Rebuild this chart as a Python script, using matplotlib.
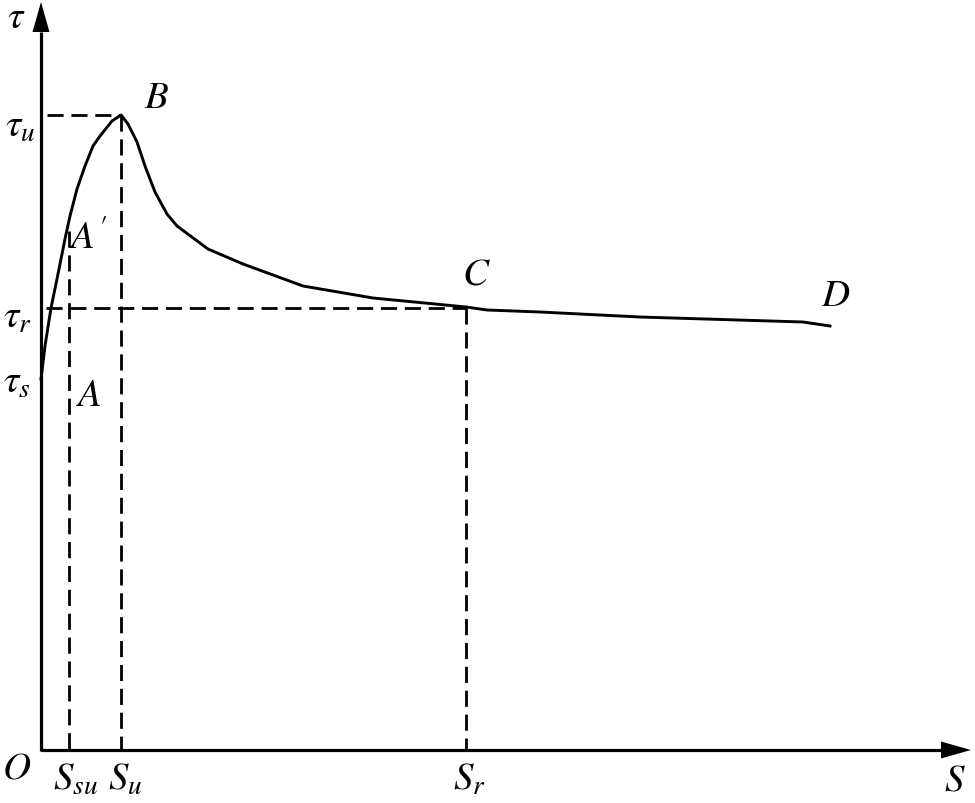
import matplotlib
matplotlib.use("Agg")
import matplotlib.pyplot as plt

plt.rcParams['mathtext.fontset'] = 'stix'
plt.rcParams['font.family'] = ['Liberation Serif', 'DejaVu Serif']

# Bond-slip curve (S, tau) in arbitrary units
S_curve = [0.0, 0.4, 1.0, 1.6, 2.4, 2.9, 3.6, 4.4, 5.2, 5.9, 7.1, 8.0,
           8.7, 9.6, 10.4, 11.4, 12.6, 13.6, 16.7, 20.2, 26.2, 33.2, 42.5, 44.6,
           49.9, 59.9, 76.2, 78.9]
tau_curve = [37.1, 40.4, 44.2, 47.1, 51.1, 53.4, 56.1, 58.4, 60.4, 61.4, 62.9, 63.5,
             62.6, 60.8, 58.4, 55.8, 53.6, 52.4, 50.1, 48.6, 46.4, 45.2, 44.3, 44.0,
             43.8, 43.3, 42.8, 42.4]

S_su, tau_A1 = 2.8, 51.9
S_u, tau_u = 8.0, 63.5
S_r, tau_r = 42.5, 44.2
tau_s = 37.1
S_D, tau_D = 78.9, 42.4

x_max, y_max = 93.0, 74.8

fig = plt.figure(figsize=(9.75, 8.04), dpi=100)
ax = fig.add_axes([0, 0, 1, 1])
ax.set_xlim(-4.1, 93.4)
ax.set_ylim(-5.3, 75.1)
ax.axis('off')

# axes
ax.plot([0, x_max - 2.9], [0, 0], color='k', lw=2.3, solid_capstyle='butt')
ax.plot([0, 0], [-0.1, y_max - 3.0], color='k', lw=2.3, solid_capstyle='butt')
ax.fill([x_max - 3.0, x_max, x_max - 3.0], [-0.85, 0, 0.85], color='k', lw=0)
ax.fill([-0.85, 0, 0.85], [y_max - 3.0, y_max, y_max - 3.0], color='k', lw=0)

# dashed guides
dash = dict(color='k', lw=2.0, dashes=(5.8, 2.8))
ax.plot([0.6, S_u], [tau_u, tau_u], **dash)
ax.plot([S_u, S_u], [tau_u, 0], **dash)
ax.plot([0.5, S_r], [tau_r, tau_r], **dash)
ax.plot([S_r, S_r], [tau_r, 0], **dash)
ax.plot([S_su, S_su], [tau_A1, 0], **dash)

# curve
ax.plot(S_curve, tau_curve, color='k', lw=2.1, solid_joinstyle='round')

fs = 28
def lab(s, x, y, dx, dy, **kw):
    ax.annotate(s, xy=(x, y), xytext=(dx, dy), textcoords='offset pixels',
                ha='center', va='center', fontsize=fs, **kw)

lab(r'$\tau$', 0, y_max, -25, -15)
lab(r'$\tau_u$', 0, tau_u, -21, -11)
lab(r'$\tau_r$', 0, tau_r, -23, -9)
lab(r'$\tau_s$', 0, tau_s, -24, -3)
lab(r'$B$', S_u, tau_u, 36, 17)
lab(r"$A'$", S_su, tau_A1, 19, -7)
lab(r'$A$', S_su, tau_s, 20, -17)
lab(r'$C$', S_r, tau_r, 10, 34)
lab(r'$D$', S_D, tau_D, 6, 31)
lab(r'$O$', 0, 0, -24, -18)
lab(r'$S_{su}$', S_su, 0, 6, -29)
lab(r'$S_u$', S_u, 0, 4, -29)
lab(r'$S_r$', S_r, 0, 3, -29)
lab(r'$S$', x_max, 0, -16, -30)

fig.savefig('out.png', dpi=100, facecolor='white')
